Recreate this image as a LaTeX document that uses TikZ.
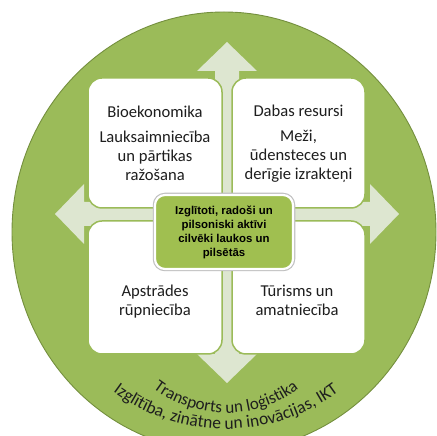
\documentclass[tikz,border=0pt]{standalone}
\usepackage{fontspec}
\setmainfont{Carlito}
\newfontfamily\centerfont{Liberation Sans}
\definecolor{circfill}{HTML}{9BBB59}
\definecolor{circedge}{HTML}{748F3E}
\definecolor{crossfill}{HTML}{DDE6D0}
\definecolor{boxedge}{HTML}{9BBB59}
\definecolor{centfill}{HTML}{A0BF50}
\definecolor{txt}{HTML}{1E1E1E}
\tikzset{
  sectorbox/.style={draw=boxedge, line width=1.5pt, fill=white, rounded corners=14pt, inner sep=0pt},
  sectortext/.style={text=txt, align=center, inner sep=0pt, font=\fontsize{16.6}{19}\selectfont},
  centerbox/.style={fill=centfill, rounded corners=10pt, inner sep=0pt,
     preaction={draw=black!25, line width=4.5pt},
     draw=white, line width=2.2pt},
  centertext/.style={text=black, align=center, inner sep=0pt, font=\centerfont\bfseries\fontsize{11.4}{14}\selectfont},
  arcchar/.style={anchor=base, inner sep=0pt, text=txt}
}
\def\arccomma{,}
\begin{document}
\begin{tikzpicture}[x=1pt, y=1pt]
\useasboundingbox (0,0) rectangle (437,436);
\clip (0,0) rectangle (437,436);
% big circle
\fill[circfill, draw=circedge, line width=0.9pt] (224,204) ellipse [x radius=212pt, y radius=220pt];
% four-way arrow
\fill[crossfill] (227,394) -- (257,365) -- (239,365) -- (239,234) -- (370,234) -- (370,252)
  -- (399,222) -- (370,192) -- (370,210) -- (239,210) -- (239,82) -- (257,82) -- (227,53)
  -- (197,82) -- (215,82) -- (215,210) -- (84,210) -- (84,192) -- (55,222) -- (84,252)
  -- (84,234) -- (215,234) -- (215,365) -- (197,365) -- cycle;
% sector boxes
\node[sectorbox, minimum width=134pt, minimum height=130pt] (tl) at (155,293) {};
\node[sectorbox, minimum width=133pt, minimum height=130pt] (tr) at (298.5,293) {};
\node[sectorbox, minimum width=134pt, minimum height=133pt] (bl) at (155,148.5) {};
\node[sectorbox, minimum width=133pt, minimum height=133pt] (br) at (298.5,148.5) {};
\node[sectortext] (tltext) at (155,293) {Bioekonomika\\[6pt]Lauksaimniecība\\un pārtikas\\ražošana};
\node[sectortext] (trtext) at (298.5,292) {Dabas resursi\\[6pt]Meži,\\ūdensteces un\\derīgie izrakteņi};
\node[sectortext] (bltext) at (155,134) {Apstrādes\\rūpniecība};
\node[sectortext] (brtext) at (297,135.5) {Tūrisms un\\amatniecība};
% centre box
\node[centerbox, minimum width=138pt, minimum height=74pt] (centre) at (224,204) {};
\node[centertext] (centretext) at (224,204) {Izglītoti, radoši un\\pilsoniski aktīvi\\cilvēki laukos un\\pilsētās};
% curved text 1: Transports un loģistika (centre (226,143), radius 120)
\foreach \ch/\ang/\rot [count=\k] in {T/234.61/-35.39, r/238.00/-32.00, a/241.36/-28.64,
    n/245.44/-24.56, s/249.16/-20.84, p/252.88/-17.12, o/257.15/-12.85, r/260.70/-9.30,
    t/263.48/-6.52, s/266.43/-3.57, u/271.98/1.98, n/276.25/6.25, l/281.14/11.14,
    o/284.20/14.20, ģ/288.26/18.26, i/291.10/21.10, s/293.62/23.62, t/296.56/26.56,
    i/298.85/28.85, k/301.63/31.63, a/305.42/35.42}
  \node[arcchar, font=\fontsize{17}{17}\selectfont, rotate=\rot] (ta\k) at ([shift={(226,143)}]\ang:120pt) {\ch};
% curved text 2: Izglītība, zinātne un inovācijas, IKT (centre (226,197), radius 190)
\foreach \ch/\ang/\rot [count=\k] in {I/234.21/-35.79, z/235.92/-34.08, g/238.20/-31.80,
    l/240.05/-29.95, ī/241.26/-28.74, t/242.75/-27.25, ī/244.23/-25.77, b/246.22/-23.78,
    a/248.87/-21.13, \arccomma/250.80/-19.20, z/253.69/-16.31, i/255.34/-14.66,
    n/257.33/-12.67, ā/259.98/-10.02, t/262.12/-7.88, n/264.39/-5.61, e/267.09/-2.91,
    u/270.98/0.98, n/273.75/3.75, i/276.94/6.94, n/278.93/8.93, o/281.70/11.70,
    v/284.29/14.29, ā/286.74/16.74, c/289.12/19.12, i/290.84/20.84, j/292.08/22.08,
    a/293.97/23.97, s/296.27/26.27, \arccomma/297.96/27.96, I/300.48/30.48,
    K/302.51/32.51, T/305.17/35.17}
  \node[arcchar, font=\fontsize{17.5}{17.5}\selectfont, rotate=\rot] (tb\k) at ([shift={(226,197)}]\ang:190pt) {\ch};
\end{tikzpicture}
\end{document}
